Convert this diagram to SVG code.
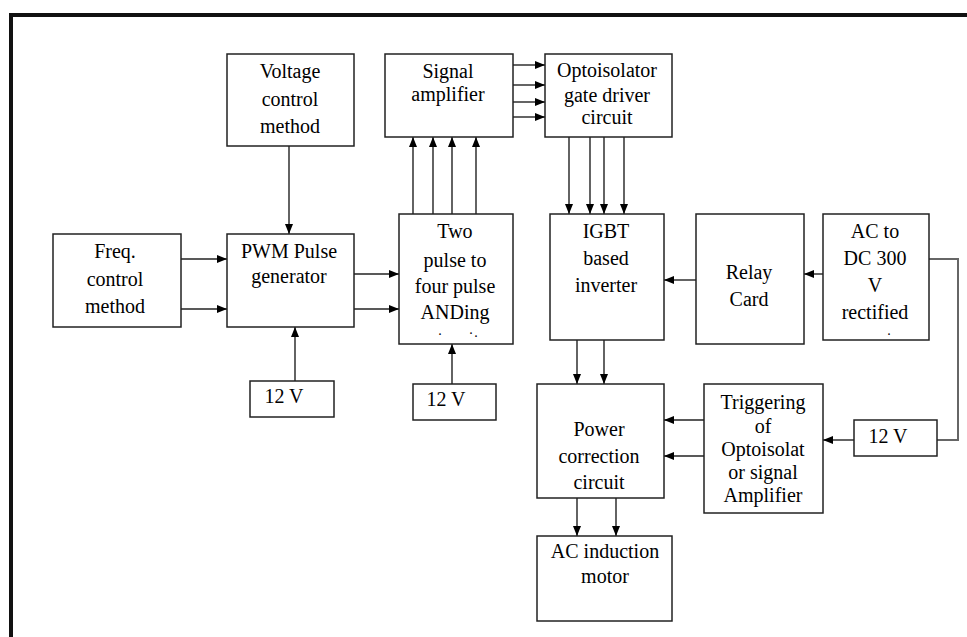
<svg xmlns="http://www.w3.org/2000/svg" width="967" height="637" viewBox="0 0 967 637">
<defs>
<marker id="ah" markerUnits="userSpaceOnUse" markerWidth="10" markerHeight="8" refX="10" refY="4" orient="auto">
<path d="M0,0 L10,4 L0,8 z" fill="#000"/>
</marker>
<style>
.box{fill:#fff;stroke:#222;stroke-width:1.5}
.t{font-family:'Liberation Serif','DejaVu Serif',serif;font-size:20px;fill:#000;text-anchor:middle}
.c{fill:none;stroke:#222;stroke-width:1.4}
.a{marker-end:url(#ah)}
.g{fill:none;stroke:#666;stroke-width:2}
</style>
</defs>
<rect width="967" height="637" fill="#fff"/>
<path d="M11,637 V15 H967" fill="none" stroke="#111" stroke-width="4"/>

<g id="connectors">
<path class="c a" d="M289,146 V234"/>
<path class="c a" d="M181,259 H227"/>
<path class="c a" d="M181,309 H227"/>
<path class="c a" d="M295,381 V327"/>
<path class="c a" d="M354,274 H399"/>
<path class="c a" d="M354,309 H399"/>
<path class="c a" d="M452,384 V344"/>
<path class="c a" d="M413,214 V137"/>
<path class="c a" d="M433,214 V137"/>
<path class="c a" d="M452,214 V137"/>
<path class="c a" d="M476,214 V137"/>
<path class="c a" d="M513,65 H545"/>
<path class="c a" d="M513,85 H545"/>
<path class="c a" d="M513,102 H545"/>
<path class="c a" d="M513,117 H545"/>
<path class="c a" d="M569,137 V214"/>
<path class="c a" d="M590,137 V214"/>
<path class="c a" d="M604,137 V214"/>
<path class="c a" d="M624,137 V214"/>
<path class="c a" d="M823,274 H804"/>
<path class="c a" d="M696,280 H664"/>
<path class="c a" d="M577,340 V384"/>
<path class="c a" d="M604,340 V384"/>
<path class="c a" d="M577,498 V536"/>
<path class="c a" d="M616,498 V536"/>
<path class="c a" d="M704,420 H664"/>
<path class="c a" d="M704,456 H664"/>
<path class="c a" d="M854,440 H823"/>
<path class="g" d="M929,259 H958 V440 H937"/>
</g>

<g font-family="'Liberation Serif', 'DejaVu Serif', serif">
<g id="voltage-control">
<rect class="box" x="227" y="54" width="127" height="92"/>
<text class="t" x="290" y="78">Voltage</text>
<text class="t" x="290" y="106">control</text>
<text class="t" x="290" y="133">method</text>
</g>

<g id="signal-amplifier">
<rect class="box" x="385" y="54" width="128" height="83"/>
<text class="t" x="448" y="78">Signal</text>
<text class="t" x="448" y="101">amplifier</text>
</g>

<g id="optoisolator">
<rect class="box" x="545" y="54" width="127" height="83"/>
<text class="t" x="607" y="77">Optoisolator</text>
<text class="t" x="607" y="102">gate driver</text>
<text class="t" x="607" y="124">circuit</text>
</g>

<g id="freq-control">
<rect class="box" x="53" y="234" width="128" height="93"/>
<text class="t" x="115" y="258">Freq.</text>
<text class="t" x="115" y="286">control</text>
<text class="t" x="115" y="313">method</text>
</g>

<g id="pwm">
<rect class="box" x="227" y="234" width="127" height="93"/>
<text class="t" x="289" y="258">PWM Pulse</text>
<text class="t" x="289" y="283">generator</text>
</g>

<g id="two-pulse">
<rect class="box" x="399" y="214" width="114" height="130"/>
<text class="t" x="455" y="238">Two</text>
<text class="t" x="455" y="267">pulse to</text>
<text class="t" x="455" y="293">four pulse</text>
<text class="t" x="455" y="319">ANDing</text>
<text class="t" x="440" y="335" style="font-size:14px">.</text>
<text class="t" x="471" y="334" style="font-size:14px">.</text>
<text class="t" x="476" y="337" style="font-size:14px">.</text>
</g>

<g id="v12-left">
<rect class="box" x="250" y="381" width="84" height="36"/>
<text class="t" x="284" y="403">12 V</text>
</g>

<g id="v12-mid">
<rect class="box" x="413" y="384" width="83" height="36"/>
<text class="t" x="446" y="406">12 V</text>
</g>

<g id="igbt">
<rect class="box" x="550" y="214" width="114" height="126"/>
<text class="t" x="606" y="238">IGBT</text>
<text class="t" x="606" y="265">based</text>
<text class="t" x="606" y="292">inverter</text>
</g>

<g id="relay">
<rect class="box" x="696" y="214" width="108" height="130"/>
<text class="t" x="749" y="279">Relay</text>
<text class="t" x="749" y="306">Card</text>
</g>

<g id="ac-dc">
<rect class="box" x="823" y="214" width="106" height="126"/>
<text class="t" x="875" y="238">AC to</text>
<text class="t" x="875" y="265">DC 300</text>
<text class="t" x="875" y="292">V</text>
<text class="t" x="875" y="319">rectified</text>
<text class="t" x="889" y="335" style="font-size:14px">.</text>
</g>

<g id="power-correction">
<rect class="box" x="537" y="384" width="127" height="114"/>
<text class="t" x="599" y="436">Power</text>
<text class="t" x="599" y="463">correction</text>
<text class="t" x="599" y="489">circuit</text>
</g>

<g id="triggering">
<rect class="box" x="704" y="384" width="119" height="129"/>
<text class="t" x="763" y="409">Triggering</text>
<text class="t" x="763" y="433">of</text>
<text class="t" x="763" y="456">Optoisolat</text>
<text class="t" x="763" y="479">or signal</text>
<text class="t" x="763" y="502">Amplifier</text>
</g>

<g id="v12-right">
<rect class="box" x="854" y="420" width="83" height="36"/>
<text class="t" x="888" y="443">12 V</text>
</g>

<g id="motor">
<rect class="box" x="537" y="536" width="135" height="85"/>
<text class="t" x="605" y="558">AC induction</text>
<text class="t" x="605" y="583">motor</text>
</g>
</g>
</svg>
